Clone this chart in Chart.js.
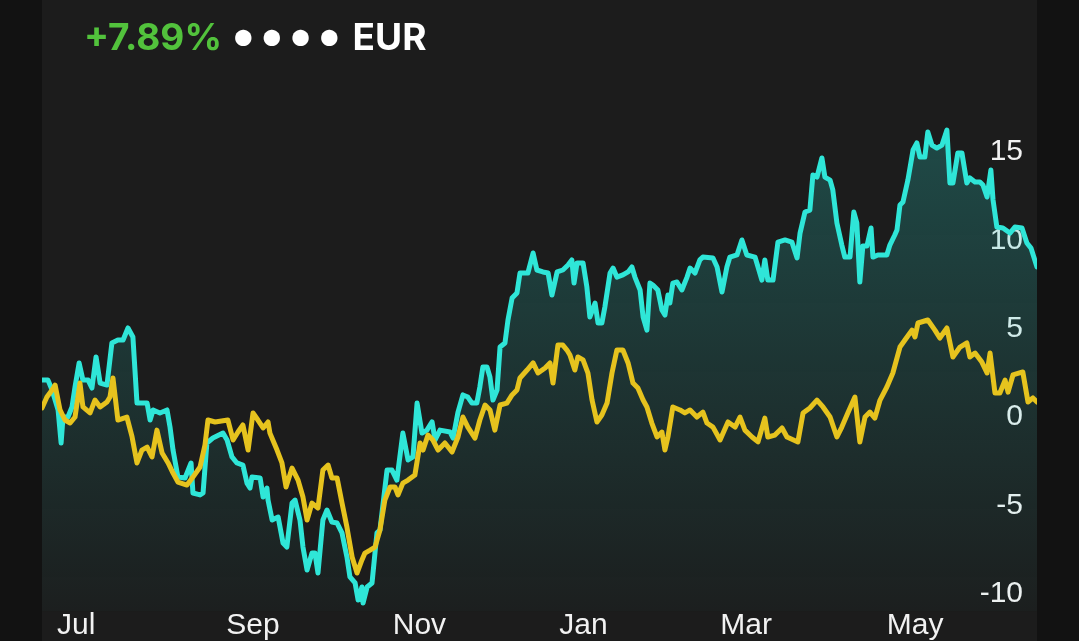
<!DOCTYPE html>
<html>
<head>
<meta charset="utf-8">
<script src="https://cdn.jsdelivr.net/npm/chart.js@4.4.1/dist/chart.umd.min.js"></script>
<style>
  body { margin: 0; background: #121212; width: 1079px; height: 641px; overflow: hidden; }
  #panel { position: absolute; left: 42px; top: 0; width: 995px; height: 641px; background: #1c1c1c; }
  #title { position: absolute; left: 42px; top: 16px; font-family: Inter, sans-serif; font-weight: 700;
           font-size: 37px; line-height: 37px; color: #fff; white-space: nowrap; }
  #title .pct { color: #52c23c; }
  #title .dots { font-size: 52px; margin: 0 7px 0 9px; letter-spacing: 4px; vertical-align: -3px; }
  canvas { position: absolute; left: 0; top: 0; }
</style>
</head>
<body>
<div id="panel">
  <canvas id="chart" width="995" height="641"></canvas>
  <div id="title"><span class="pct">+7.89%</span><span class="dots">••••</span>EUR</div>
</div>
<script>
// days counted from 1 Jul, values in %
const monthTicks = [0, 62, 123, 184, 243, 304];
const monthLabels = ['Jul', 'Sep', 'Nov', 'Jan', 'Mar', 'May'];
const yTicks = [-10, -5, 0, 5, 10, 15];

const cyanDays = [
  -5.5, -3.3, -1.8, -0.7, 0.4, 1.5, 2.2, 4.0, 5.5, 6.6,
  8.1, 9.5, 11.4, 12.8, 14.3, 15.8, 18.3, 20.1, 22.3, 24.2,
  26.0, 27.8, 29.3, 30.4, 33.0, 34.1, 35.2, 37.7, 40.3, 41.4,
  42.5, 44.3, 46.9, 49.1, 49.8, 52.4, 53.5, 54.9, 57.1, 60.8,
  62.3, 64.1, 65.9, 68.1, 69.6, 70.7, 71.4, 74.4, 75.5, 76.9,
  77.3, 78.8, 81.0, 82.8, 84.2, 86.1, 87.2, 89.0, 90.1, 91.6,
  93.4, 94.5, 95.6, 97.4, 98.9, 100.7, 102.6, 104.4, 106.2, 107.3,
  109.2, 110.3, 111.7, 112.1, 113.6, 115.4, 117.2, 118.3, 120.9, 122.7,
  124.5, 126.7, 128.6, 130.4, 131.9, 133.7, 135.5, 137.4, 138.5, 140.3,
  144.0, 145.1, 146.9, 148.7, 150.5, 152.0, 153.8, 154.9, 156.0, 157.5,
  158.6, 159.7, 161.2, 162.3, 164.1, 165.2, 166.7, 168.5, 169.6, 172.5,
  174.4, 175.8, 178.0, 179.9, 181.3, 183.2, 185.3, 187.2, 188.6, 189.4,
  190.5, 192.7, 194.1, 195.2, 197.1, 198.2, 199.6, 200.7, 202.6, 203.7,
  205.1, 207.3, 209.2, 210.6, 211.7, 213.6, 214.7, 216.1, 217.2, 218.3,
  220.1, 221.6, 222.7, 223.8, 224.5, 225.6, 227.1, 228.9, 230.8, 231.9,
  233.7, 235.5, 236.6, 240.3, 241.8, 243.6, 245.4, 246.5, 249.1, 250.9,
  252.7, 255.7, 256.8, 258.2, 259.3, 260.4, 262.3, 264.1, 266.7, 269.2,
  271.1, 272.2, 274.0, 275.8, 276.9, 278.4, 280.2, 281.3, 283.2, 284.2,
  285.7, 287.5, 288.6, 290.5, 291.9, 293.0, 294.1, 295.2, 296.7, 298.2,
  298.9, 300.7, 304.0, 305.1, 306.9, 307.7, 308.8, 309.9, 311.7, 313.6,
  315.0, 316.1, 317.9, 319.0, 320.5, 322.3, 324.2, 326.0, 327.1, 328.2,
  330.0, 331.5, 333.3, 334.4, 336.3, 338.1, 339.2, 340.7, 342.1, 342.9,
  344.3, 346.5, 349.1, 350.9, 353.5, 355.3, 356.8, 359
];
const cyanValues = [
  2.09, 2.09, 1.53, 0.96, 0.40, -1.47, 0, 0, 0.57, 1.70,
  3.06, 2.09, 2.09, 1.64, 3.40, 1.92, 1.81, 4.19, 4.36, 4.36,
  5.04, 4.53, 0.79, 0.79, 0.79, -0.17, 0.40, 0.23, 0.40, -0.57,
  -1.87, -3.40, -3.45, -2.60, -4.30, -4.41, -4.30, -1.47, -1.19, -0.91,
  -1.30, -2.26, -2.60, -2.72, -3.74, -4.02, -3.40, -3.45, -4.53, -4.02,
  -4.70, -5.83, -5.66, -7.13, -7.36, -4.87, -4.70, -5.83, -7.36, -8.66,
  -7.70, -7.70, -8.83, -5.83, -5.26, -5.94, -6.00, -6.56, -7.92, -9.05,
  -9.39, -10.36, -9.62, -10.53, -9.62, -9.39, -6.56, -6.40, -3.00, -3.00,
  -3.57, -0.91, -2.43, -2.26, 0.79, -0.91, -0.74, -0.28, -1.30, -0.74,
  -0.85, -1.19, 0.28, 1.25, 1.13, 0.79, 0.79, 1.70, 2.83, 2.83,
  2.26, 0.96, 1.53, 3.96, 4.19, 5.49, 6.73, 7.02, 8.15, 8.15,
  9.28, 8.32, 8.21, 8.15, 6.90, 8.21, 8.32, 8.60, 8.89, 7.58,
  8.72, 8.72, 7.36, 5.66, 6.45, 5.32, 5.32, 6.23, 8.15, 8.43,
  7.92, 8.04, 8.21, 8.49, 7.92, 7.19, 5.66, 4.92, 7.58, 7.47,
  7.19, 6.06, 5.77, 6.90, 6.45, 7.58, 7.64, 7.19, 7.92, 8.43,
  8.15, 8.89, 9.05, 9.00, 8.49, 7.07, 8.49, 9.05, 9.17, 10.02,
  9.17, 9.05, 8.49, 7.75, 8.89, 7.75, 7.75, 9.90, 10.02, 9.90,
  9.00, 10.41, 11.60, 11.71, 13.70, 13.58, 14.66, 13.58, 13.41, 12.85,
  10.98, 9.73, 9.05, 9.05, 11.60, 10.98, 7.64, 9.68, 9.68, 10.70,
  9.05, 9.17, 9.17, 9.73, 10.30, 10.58, 12.00, 12.17, 13.41, 15.11,
  15.51, 14.71, 14.71, 16.13, 15.39, 15.22, 15.39, 16.24, 13.24, 13.24,
  14.94, 14.94, 13.24, 13.53, 13.30, 13.30, 13.13, 12.45, 13.98, 12.28,
  10.75, 10.70, 10.41, 10.75, 10.70, 9.85, 9.56, 8.49
];

const yellowDays = [
  -5.5, -3.7, -1.8, -0.7, 1.1, 2.9, 4.8, 6.6, 8.4, 9.5,
  12.1, 13.9, 15.8, 18.3, 19.4, 20.5, 22.3, 25.6, 27.5, 29.3,
  31.1, 33.0, 34.8, 36.6, 38.5, 40.7, 42.5, 44.3, 47.6, 49.8,
  52.4, 54.2, 55.3, 57.9, 62.6, 64.5, 66.3, 68.1, 70.0, 71.8,
  73.6, 75.5, 77.3, 78.0, 80.6, 82.4, 83.9, 86.1, 88.3, 90.1,
  91.6, 93.4, 95.6, 97.4, 99.3, 100.7, 102.6, 104.4, 106.2, 108.1,
  109.9, 111.7, 112.8, 114.7, 116.5, 118.3, 120.1, 122.0, 123.8, 124.9,
  126.7, 128.6, 131.1, 133.0, 134.1, 135.9, 137.7, 139.6, 142.1, 144.7,
  146.9, 148.7, 150.5, 153.1, 154.9, 156.8, 158.6, 160.4, 162.3, 164.8,
  166.7, 168.5, 169.6, 172.2, 174.4, 176.2, 178.8, 180.6, 181.7, 183.5,
  185.3, 186.8, 187.9, 189.7, 190.8, 192.7, 194.5, 196.0, 197.8, 199.6,
  201.5, 203.3, 205.1, 207.3, 209.2, 211.0, 212.8, 214.7, 216.1, 217.9,
  219.8, 221.6, 222.7, 223.8, 225.6, 228.2, 230.0, 231.9, 234.4, 236.6,
  238.1, 240.3, 242.9, 245.8, 248.4, 250.2, 252.0, 254.6, 256.8, 259.3,
  260.4, 263.0, 265.6, 267.4, 271.4, 273.3, 275.8, 278.4, 280.6, 283.2,
  285.7, 287.5, 289.7, 292.3, 294.1, 296.0, 297.8, 299.6, 301.5, 304.0,
  306.2, 308.8, 311.4, 313.2, 314.3, 315.4, 319.0, 321.6, 323.4, 326.0,
  328.2, 330.8, 333.3, 334.4, 336.3, 338.8, 340.7, 341.8, 343.6, 345.4,
  347.3, 348.4, 350.2, 353.8, 355.7, 357.5, 359
];
const yellowValues = [
  0.51, 1.13, 1.53, 1.81, 0.40, -0.17, -0.34, 0, 1.92, 0.57,
  0.23, 0.96, 0.57, 0.85, 1.13, 2.21, -0.17, 0, -1.13, -2.60,
  -1.87, -1.70, -2.26, -0.74, -2.04, -2.60, -3.17, -3.68, -3.85, -3.40,
  -2.83, -1.58, -0.17, -0.28, -0.17, -1.30, -0.85, -0.45, -1.87, 0.23,
  -0.17, -0.62, -0.28, -0.91, -1.87, -2.60, -3.96, -2.89, -3.57, -4.53,
  -5.83, -4.87, -5.15, -3.00, -2.72, -3.45, -3.45, -4.87, -6.23, -7.92,
  -8.83, -8.09, -7.70, -7.53, -7.36, -6.40, -4.70, -3.96, -3.96, -4.41,
  -3.74, -3.57, -3.28, -1.47, -1.87, -1.02, -1.30, -1.87, -1.47, -1.98,
  -1.13, 0, -0.57, -1.19, -0.17, 0.68, 0.40, -0.74, 0.68, 0.79,
  1.25, 1.53, 2.21, 2.66, 3.06, 2.49, 2.77, 3.06, 1.92, 4.07,
  4.07, 3.79, 3.51, 2.66, 3.40, 3.23, 2.49, 0.96, -0.28, 0.11,
  0.79, 2.49, 3.79, 3.79, 3.06, 1.92, 1.64, 0.96, 0.57, -0.34,
  -1.13, -0.85, -1.87, -1.13, 0.57, 0.40, 0.23, 0.40, 0, 0.28,
  -0.34, -0.57, -1.30, -0.28, -0.57, 0, -0.74, -1.13, -1.41, -0.06,
  -1.13, -1.02, -0.62, -1.13, -1.41, 0.23, 0.51, 0.96, 0.57, 0,
  -1.13, -0.57, 0.23, 1.13, -1.41, 0, 0.28, -0.06, 0.96, 1.70,
  2.49, 3.96, 4.53, 4.92, 4.53, 5.32, 5.49, 4.92, 4.47, 5.04,
  3.40, 3.96, 4.19, 3.40, 3.62, 3.11, 2.49, 3.62, 1.36, 1.36,
  2.09, 1.41, 2.38, 2.55, 0.85, 1.08, 0.85
];

const toPoints = (days, vals) => days.map((d, i) => ({ x: d, y: vals[i] }));

const ctx = document.getElementById('chart').getContext('2d');

new Chart(ctx, {
    type: 'line',
    data: {
        datasets: [
            {
                label: 'Index',
                data: toPoints(yellowDays, yellowValues),
                borderColor: '#e6c31e',
                borderWidth: 5,
                pointRadius: 0,
                fill: false,
                borderJoinStyle: 'round',
                borderCapStyle: 'round'
            },
            {
                label: 'Fund',
                data: toPoints(cyanDays, cyanValues),
                borderColor: '#2fe6d8',
                borderWidth: 5,
                pointRadius: 0,
                borderJoinStyle: 'round',
                borderCapStyle: 'round',
                fill: 'start',
                backgroundColor: (c) => {
                    const area = c.chart.chartArea;
                    if (!area) return 'rgba(40,200,190,0.15)';
                    const g = c.chart.ctx.createLinearGradient(0, area.top, 0, area.bottom);
                    g.addColorStop(0, 'rgba(40,200,190,0.3)');
                    g.addColorStop(1, 'rgba(40,200,190,0.02)');
                    return g;
                }
            }
        ]
    },
    options: {
        responsive: false,
        animation: false,
        layout: { padding: { top: 63.6, left: 0, right: 0, bottom: 0 } },
        plugins: {
            legend: { display: false },
            tooltip: { enabled: false }
        },
        scales: {
            x: {
                type: 'linear',
                min: -5.5,
                max: 359,
                grid: { display: false, drawTicks: false },
                border: { display: false },
                afterFit: (s) => { s.height = 29.6; },
                afterBuildTicks: (s) => { s.ticks = monthTicks.map(v => ({ value: v })); },
                ticks: {
                    autoSkip: false,
                    maxRotation: 0,
                    align: 'start',
                    padding: -4,
                    color: '#f2f2f2',
                    font: { family: 'Liberation Sans', size: 30 },
                    callback: (v) => monthLabels[monthTicks.indexOf(v)]
                }
            },
            y: {
                position: 'right',
                min: -11,
                max: 20,
                grid: { display: false, drawTicks: false },
                border: { display: false },
                afterFit: (s) => { s.width = 0; },
                afterBuildTicks: (s) => { s.ticks = yTicks.map(v => ({ value: v })); },
                ticks: {
                    mirror: true,
                    padding: -14,
                    color: '#f2f2f2',
                    font: { family: 'Liberation Sans', size: 30 }
                }
            }
        }
    }
});
</script>
</body>
</html>
